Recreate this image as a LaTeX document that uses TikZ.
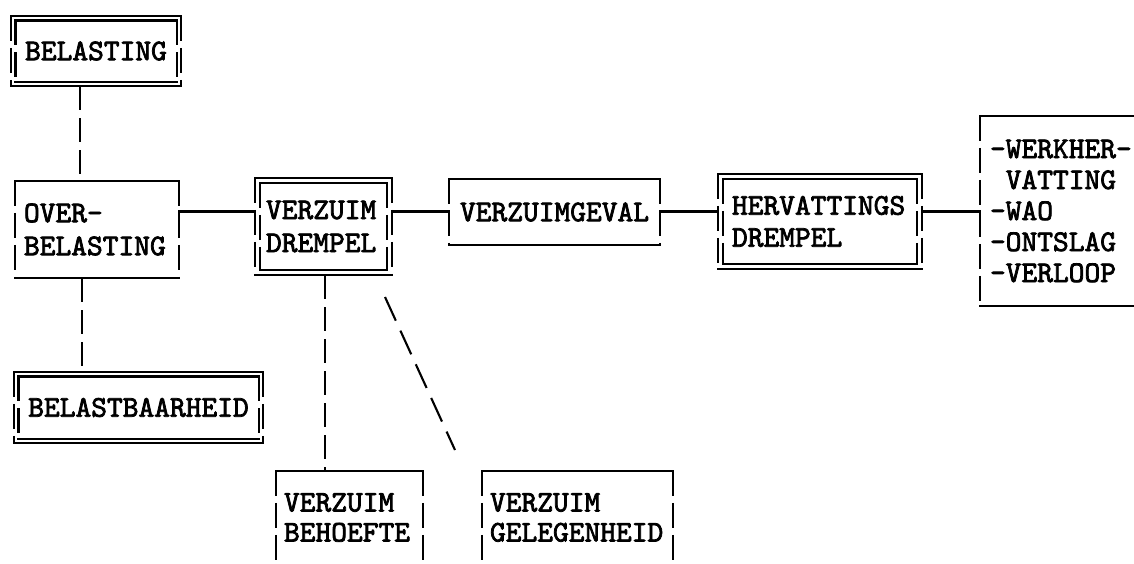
\documentclass[tikz,border=0pt]{standalone}
\usepackage{fontspec}
\newfontfamily\twfont[Extension=.otf,FakeBold=2.5]{lmmono10-regular}
% typewriter-style frames: solid horizontal rules, broken vertical bars
\newcommand\tbtop[2]{\draw ([shift={(#2pt,-#2pt)}]#1.north west) -- ([shift={(-#2pt,-#2pt)}]#1.north east);}
\newcommand\tbbot[2]{\draw ([shift={(#2pt,#2pt)}]#1.south west) -- ([shift={(-#2pt,#2pt)}]#1.south east);}
\newcommand\tbleft[2]{\draw[vrule] ([shift={(#2pt,-#2pt)}]#1.north west) -- ([shift={(#2pt,#2pt)}]#1.south west);}
\newcommand\tbright[2]{\draw[vrule] ([shift={(-#2pt,-#2pt)}]#1.north east) -- ([shift={(-#2pt,#2pt)}]#1.south east);}
\newcommand\fullframe[2]{\tbtop{#1}{#2}\tbbot{#1}{#2}\tbleft{#1}{#2}\tbright{#1}{#2}}
\begin{document}
\begin{tikzpicture}[x=1pt,y=-1pt,line width=2.1pt,line cap=rect,
  tw/.style={font=\fontsize{30}{#1}\selectfont\twfont},
  tw/.default=33,
  tbox/.style={inner ysep=0pt,align=left,anchor=center},
  vrule/.style={line cap=butt,dash pattern=on 25pt off 7pt},
  vlink/.style={line cap=butt,dash pattern=on 24pt off 8pt},
  slant/.style={line cap=butt,dash pattern=on 26pt off 11pt}]
\useasboundingbox (0,0) rectangle (1134,563);
\fill[white] (0,0) rectangle (1134,563);

% boxes
\node[tbox,tw,align=center,text width=158pt,inner xsep=5pt,minimum height=68pt] (bel) at (96,51) {BELASTING};
\node[tbox,tw,text width=146pt,inner xsep=8pt,minimum height=95pt] (over) at (97,229.5) {OVER-\\BELASTING};
\node[tbox,tw,align=center,text width=237pt,inner xsep=5pt,minimum height=69pt] (belb) at (138.5,407.5) {BELASTBAARHEID};
\node[tbox,tw,text width=115pt,inner xsep=10pt,minimum height=95pt] (vd) at (323.5,226.5) {VERZUIM\\DREMPEL};
\node[tbox,tw,align=center,text width=199pt,inner xsep=5pt,minimum height=64pt] (vg) at (554.5,212) {VERZUIMGEVAL};
\node[tbox,tw=32,text width=176pt,inner xsep=13pt,minimum height=93pt] (hd) at (820,221.5) {HERVATTINGS\\DREMPEL};
\node[tbox,tw=31,text width=142pt,inner xsep=9pt,minimum height=188pt] (out) at (1061,211) {-WERKHER-\\\phantom{-}VATTING\\-WAO\\-ONTSLAG\\-VERLOOP};
\node[tbox,tw=30,text width=131pt,inner xsep=7pt,minimum height=91pt] (vb) at (349.5,517.5) {VERZUIM\\BEHOEFTE};
\node[tbox,tw=30,text width=175pt,inner xsep=7pt,minimum height=91pt] (vgl) at (577.5,517.5) {VERZUIM\\GELEGENHEID};

% frames
\fullframe{bel}{0}\fullframe{bel}{4.5}
\fullframe{over}{0}
\fullframe{belb}{0}\fullframe{belb}{4.5}
\fullframe{vd}{0}\fullframe{vd}{5}
\fullframe{vg}{0}
\fullframe{hd}{0}\fullframe{hd}{5}
\tbtop{out}{0}\tbbot{out}{0}\tbleft{out}{0}
\tbtop{vb}{0}\tbleft{vb}{0}\tbright{vb}{0}
\tbtop{vgl}{0}\tbleft{vgl}{0}\tbright{vgl}{0}

% connectors
\coordinate (row) at (0,211.5);
\draw (over.east |- row) -- (vd.west |- row);
\draw (vd.east |- row) -- (vg.west |- row);
\draw (vg.east |- row) -- (hd.west |- row);
\draw (hd.east |- row) -- (out.west |- row);
\coordinate (xa) at (80,0);
\coordinate (xb) at (82,0);
\coordinate (xc) at (325,0);
\draw[vlink] (bel.south -| xa) -- (over.north -| xa);
\draw[vlink] (over.south -| xb) -- (belb.north -| xb);
\draw[vlink] (vd.south -| xc) -- (vb.north -| xc);
\coordinate (sa) at (385,297);
\coordinate (sb) at (455,450);
\draw[slant] (sa) -- (sb);
\end{tikzpicture}
\end{document}
